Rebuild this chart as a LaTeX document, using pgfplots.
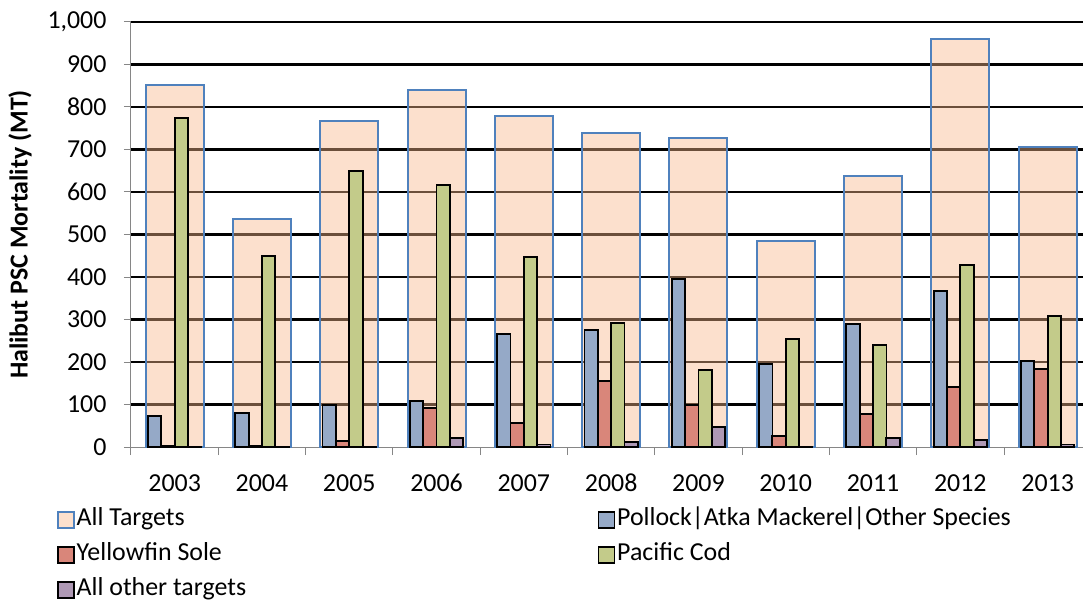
\documentclass[border=0pt]{standalone}
\usepackage{pgfplots}
\usepackage{pgfplotstable}
\pgfplotsset{compat=1.18}
\usepackage{fontspec}
\setmainfont{Carlito}
\definecolor{peach}{RGB}{249,184,138}
\definecolor{edgeblue}{RGB}{79,129,189}
\definecolor{cblue}{RGB}{149,169,199}
\definecolor{cred}{RGB}{217,134,122}
\definecolor{cgreen}{RGB}{195,203,138}
\definecolor{cpurple}{RGB}{174,152,180}
\definecolor{axgray}{RGB}{134,134,134}
\pgfplotstableread{
x all pol yfs pcod oth
0 852 73 2 774 1
1 536 80 3 450 1
2 768 98 14 649 1
3 841 108 91 616 21
4 779 265 57 447 6
5 738 275 155 292 11
6 728 396 98 181 47
7 484 196 26 255 1
8 637 290 78 240 22
9 960 368 141 429 16
10 706 203 184 308 6
}\data
\pgfplotsset{sqlegend/.style={legend image code/.code={\draw[##1, line width=1.5bp] (0bp,-3bp) rectangle (16bp,13bp);}}}
\begin{document}
\begin{tikzpicture}[font=\fontsize{26}{31}\selectfont]
\begin{axis}[
  scale only axis, width=952bp, height=425bp,
  xmin=-0.5, xmax=10.405, ymin=0, ymax=1000,
  axis x line*=bottom, axis y line*=left,
  axis line style={axgray, line width=1bp},
  ytick={100,200,...,1000},
  extra y ticks={0}, extra y tick style={grid=none},
  ymajorgrids, grid style={black, line width=2.2bp},
  xtick={0,...,10},
  xticklabels={2003,2004,2005,2006,2007,2008,2009,2010,2011,2012,2013},
  major x tick style={draw=none},
  minor xtick={-0.5,0.5,...,9.5},
  minor tick length=8bp,
  major tick length=7bp,
  tick align=outside,
  tick style={axgray, line width=1bp},
  minor x tick style={axgray, line width=1bp},
  /pgf/number format/.cd, 1000 sep={,}, assume math mode=true, /pgfplots/.cd,
  yticklabel style={xshift=-14bp},
  xticklabel style={yshift=-15.5bp, text height=18bp, text depth=0bp},
  ylabel={\bfseries Halibut PSC Mortality (MT)},
  every axis y label/.style={at={(axis description cs:0,0.5)}, xshift=-111bp, rotate=90, anchor=center},
  legend columns=2, legend cell align=left,
  legend style={at={(axis description cs:0,0)}, anchor=north west, xshift=-74bp, yshift=-58bp,
    draw=none, fill=none, inner sep=0pt, row sep=8bp, column sep=0pt,
    nodes={inner xsep=2bp, inner ysep=0bp, text height=20bp, text depth=7bp, anchor=base west}},
]
\coordinate (O) at (rel axis cs:0,0);
\addplot[ybar, bar width=0.665, bar shift=0, fill=peach, fill opacity=0.43, draw=edgeblue, line width=2bp, sqlegend] table[x=x,y=all]{\data};
\addlegendentry{\makebox[519bp][l]{All Targets}}
\addplot[ybar, bar width=0.1535, bar shift=-0.229, fill=cblue, draw=black, line width=1.8bp, sqlegend] table[x=x,y=pol]{\data};
\addlegendentry{Pollock|Atka Mackerel|Other Species}
\addplot[ybar, bar width=0.1535, bar shift=-0.077, fill=cred, draw=black, line width=1.8bp, sqlegend] table[x=x,y=yfs]{\data};
\addlegendentry{\makebox[519bp][l]{Yellowfin Sole}}
\addplot[ybar, bar width=0.1535, bar shift=0.077, fill=cgreen, draw=black, line width=1.8bp, sqlegend] table[x=x,y=pcod]{\data};
\addlegendentry{Pacific Cod}
\addplot[ybar, bar width=0.1535, bar shift=0.229, fill=cpurple, draw=black, line width=1.8bp, sqlegend] table[x=x,y=oth]{\data};
\addlegendentry{\makebox[519bp][l]{All other targets}}
\end{axis}
\pgfresetboundingbox
\path (O) ++(-131bp,-154bp) rectangle ++(1083bp,601bp);
\end{tikzpicture}
\end{document}
